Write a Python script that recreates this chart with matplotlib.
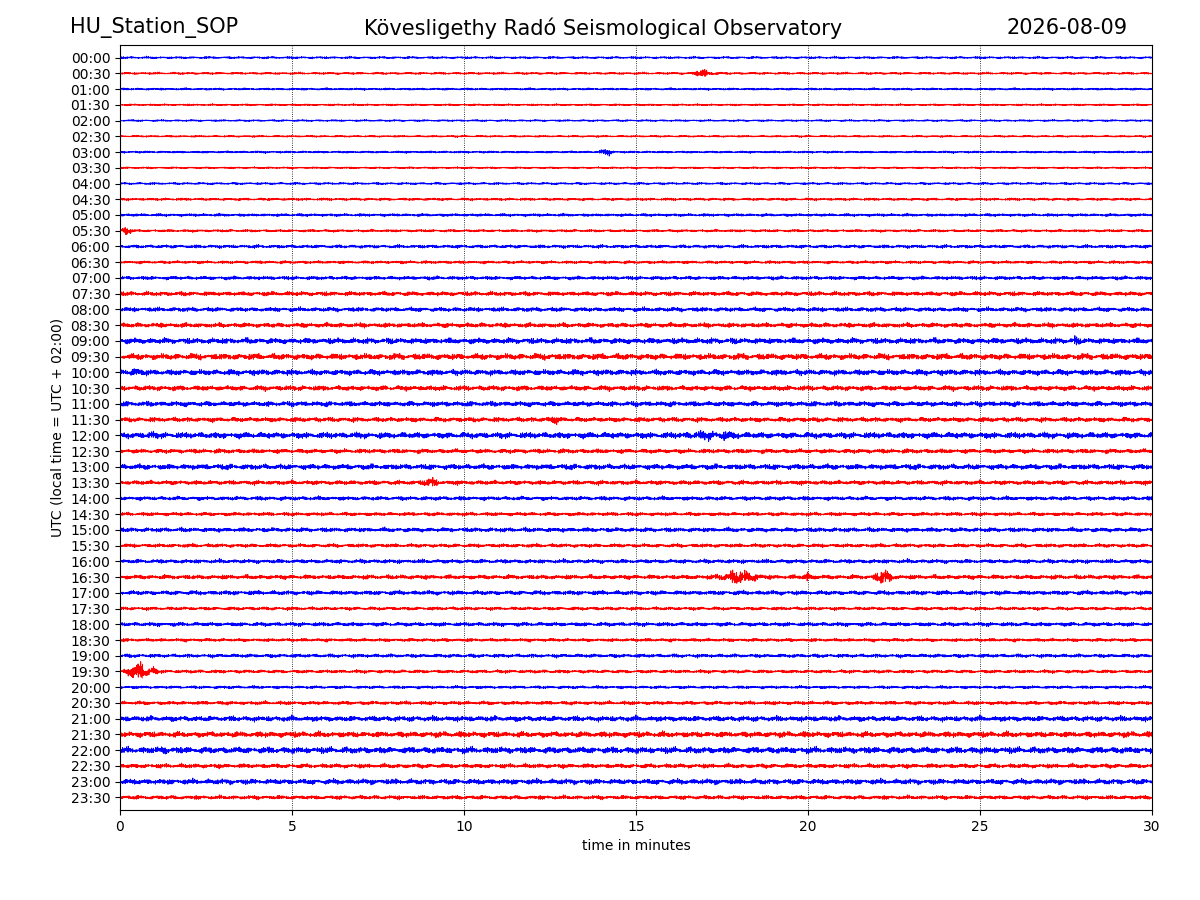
import numpy as np
import matplotlib
matplotlib.use("Agg")
import matplotlib.pyplot as plt

# row labels (UTC half hours)
labels = ["%02d:%02d" % (h, m) for h in range(24) for m in (0, 30)]

# background noise amplitude of each row (in row units)
row_amp = [0.06, 0.06, 0.06, 0.05, 0.05, 0.05, 0.06, 0.05, 0.06, 0.07,
           0.08, 0.07, 0.09, 0.08, 0.10, 0.12, 0.12, 0.13, 0.16, 0.17,
           0.16, 0.14, 0.14, 0.13, 0.17, 0.12, 0.15, 0.12, 0.11, 0.10,
           0.12, 0.10, 0.11, 0.12, 0.12, 0.09, 0.11, 0.09, 0.10, 0.09,
           0.08, 0.10, 0.15, 0.16, 0.18, 0.12, 0.15, 0.11]

# visible events: (row, start minute, end minute, peak amplitude)
events = [(1, 16.5, 17.5, 0.25), (6, 13.8, 14.5, 0.2), (11, 0.0, 0.4, 0.3),
          (18, 27.5, 28.0, 0.3), (19, 12.0, 13.0, 0.25), (20, 0.0, 1.0, 0.3),
          (23, 12.0, 13.2, 0.25), (24, 0.6, 1.2, 0.3), (24, 15.0, 19.5, 0.3),
          (27, 8.5, 9.5, 0.3), (33, 17.0, 19.0, 0.45), (33, 19.8, 20.2, 0.4),
          (33, 21.8, 22.6, 0.5), (39, 0.0, 1.2, 0.6), (44, 1.0, 1.5, 0.3)]

t = np.linspace(0, 30, 4000)
freqs = [37.1, 53.7, 71.3, 97.9, 131.1, 173.3, 211.7]

fig = plt.figure(figsize=(12, 9), dpi=100)
ax = fig.add_axes([0.1, 0.1, 0.86, 0.85])

for i, base in enumerate(row_amp):
    wig = np.zeros_like(t)
    for k, f in enumerate(freqs):
        wig += np.sin(2 * np.pi * f * t + 1.7 * i + 2.3 * k * (i % 5 + 1))
    wig /= 2.2 * wig.std()
    env = np.full_like(t, base)
    for r, s, e, a in events:
        if r == i:
            mid, half = (s + e) / 2, (e - s) / 2 + 0.05
            bump = np.clip(1 - np.abs(t - mid) / half, 0, 1)
            env = np.maximum(env, a * bump)
    color = "blue" if i % 2 == 0 else "red"
    ax.plot(t, i + env * wig, color=color, lw=0.7)

ax.set_xlim(0, 30)
ax.set_ylim(47.8, -0.8)
ax.set_yticks(range(48))
ax.set_yticklabels(labels)
ax.set_xticks([0, 5, 10, 15, 20, 25, 30])
ax.grid(axis="x", color="black", linestyle=":", lw=0.6)
ax.set_xlabel("time in minutes")
ax.set_ylabel("UTC (local time = UTC + 02:00)")

fig.text(0.058, 0.969, "HU_Station_SOP", fontsize=15, va="center")
fig.text(0.503, 0.969, "Kövesligethy Radó Seismological Observatory", fontsize=15, ha="center", va="center")
fig.text(0.94, 0.969, "2026-08-09", fontsize=15, ha="right", va="center")

fig.savefig("out.png")
